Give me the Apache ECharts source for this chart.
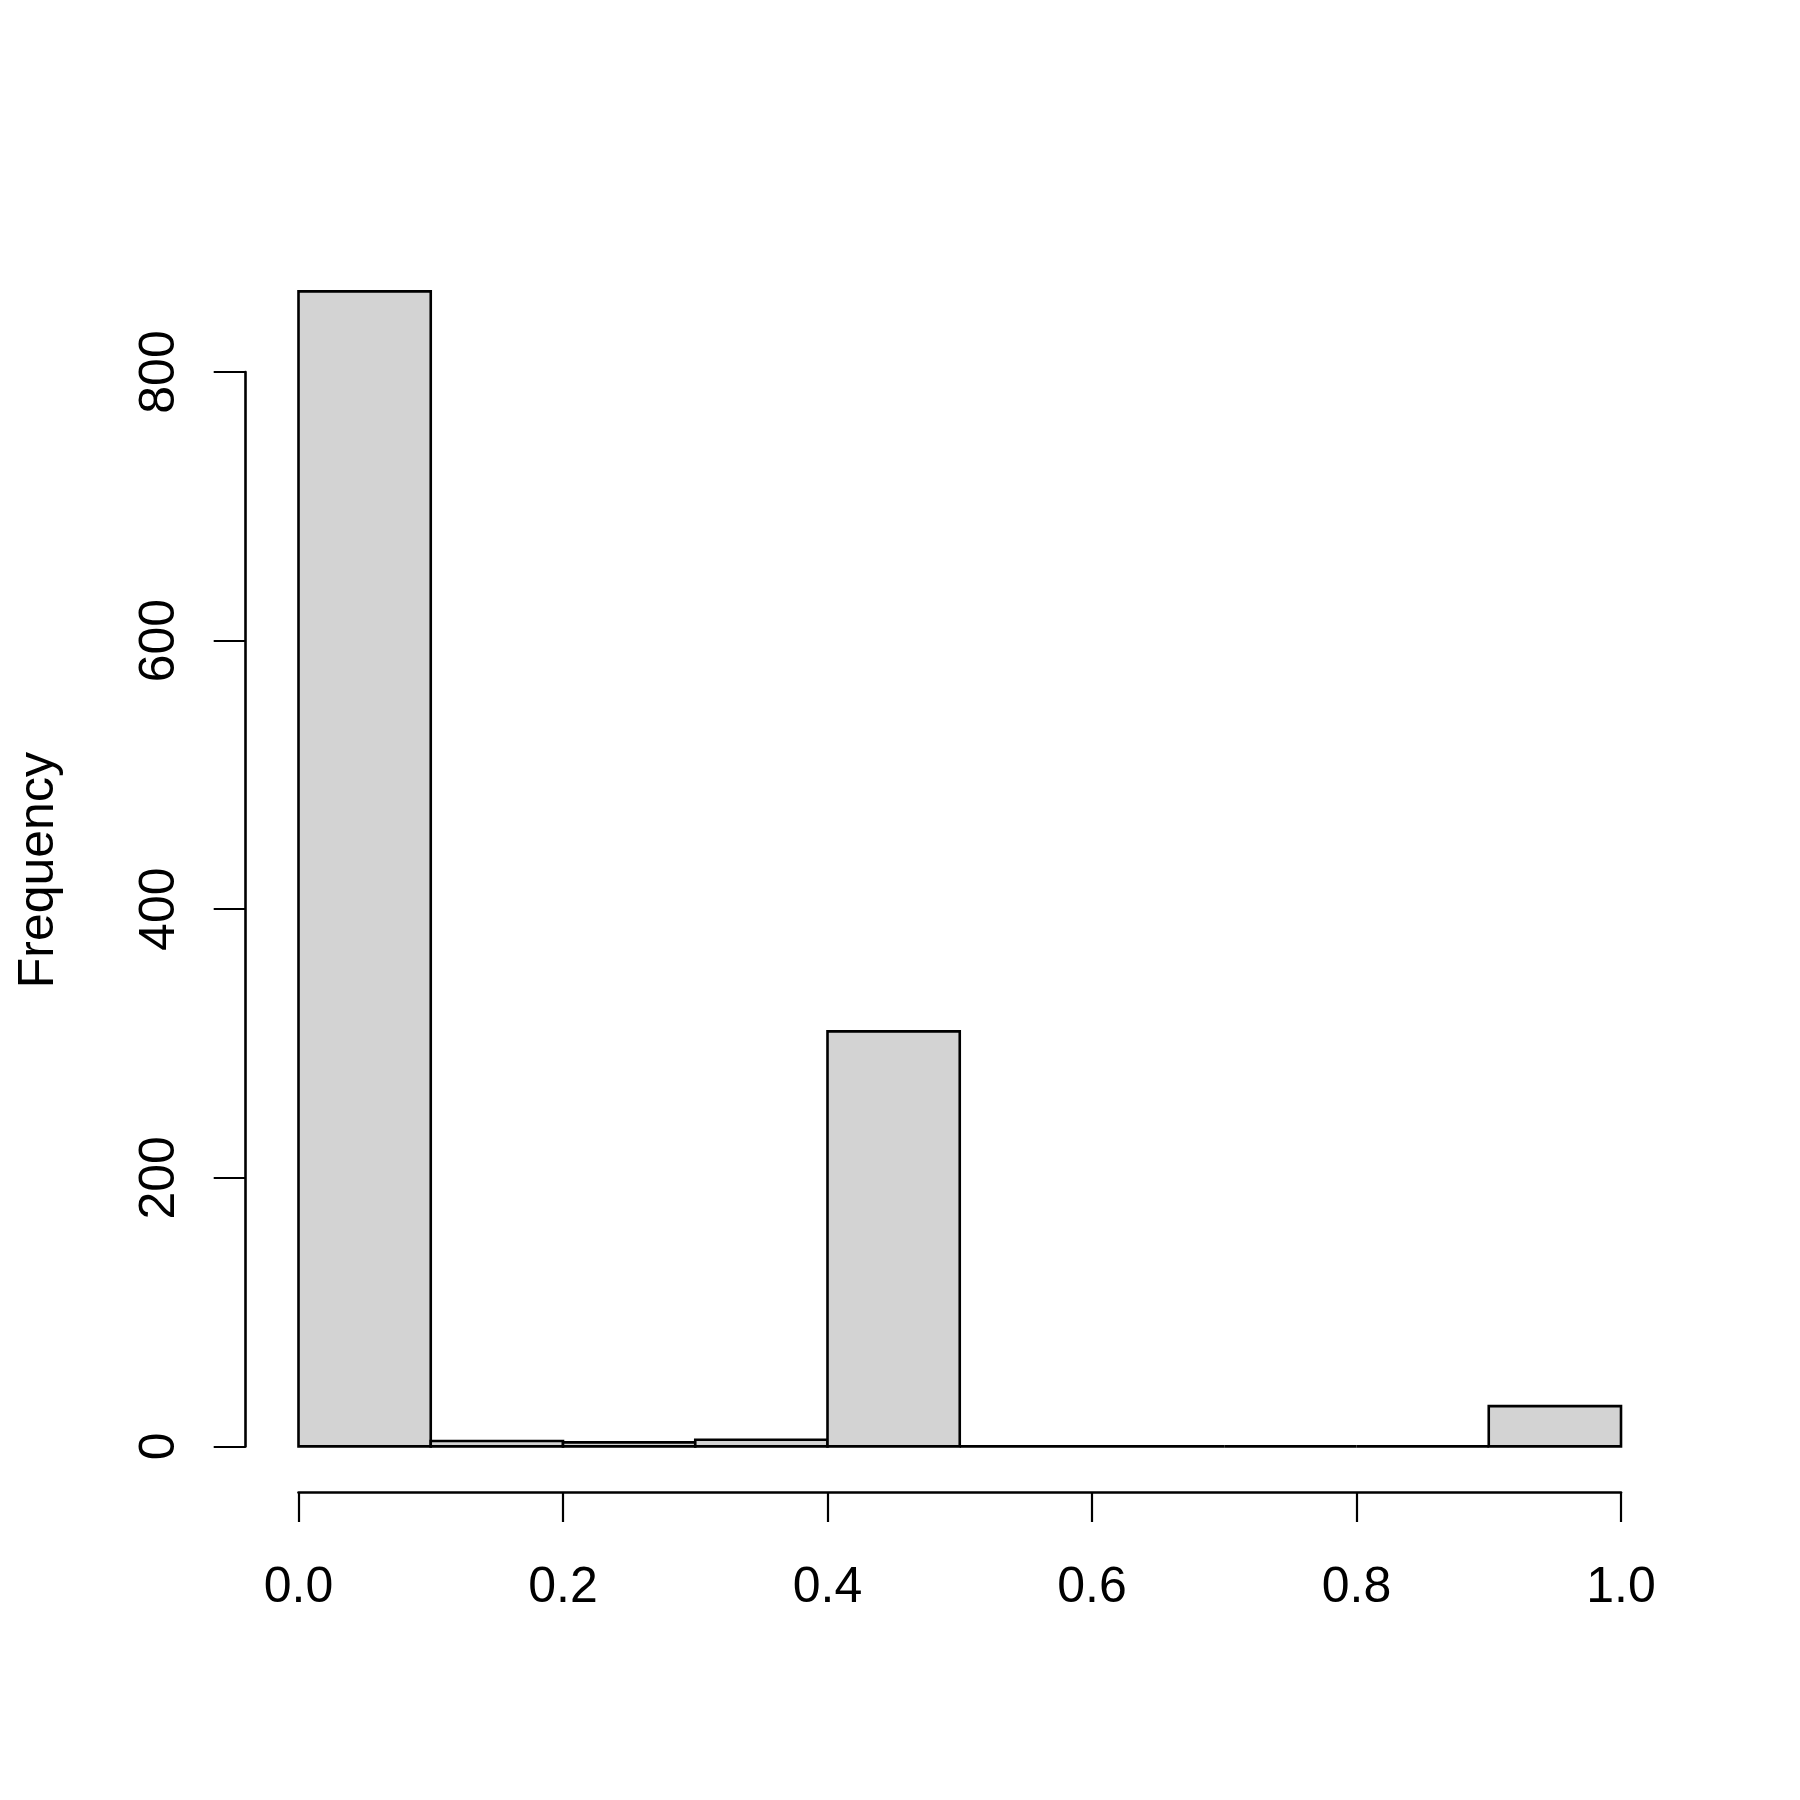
<!DOCTYPE html>
<html>
<head>
<meta charset="utf-8">
<script src="https://cdn.jsdelivr.net/npm/echarts@6/dist/echarts.min.js"></script>
<style>
  html, body { margin: 0; padding: 0; background: #ffffff; }
  #chart { width: 1800px; height: 1800px; }
</style>
</head>
<body>
<div id="chart"></div>
<script>
// histogram bins (breaks) and counts
const binStarts = [0.0, 0.1, 0.2, 0.3, 0.4, 0.5, 0.6, 0.7, 0.8, 0.9];
const binEnds   = [0.1, 0.2, 0.3, 0.4, 0.5, 0.6, 0.7, 0.8, 0.9, 1.0];
const counts    = [860, 4, 3, 5, 309, 0, 0, 0, 0, 30];
const xTicks = [0.0, 0.2, 0.4, 0.6, 0.8, 1.0];
const yTicks = [0, 200, 400, 600, 800];

const font = "Liberation Sans, Arial, sans-serif";
const histData = binStarts.map((s, i) => [s, binEnds[i], counts[i]]);

const chart = echarts.init(document.getElementById("chart"));

// draw each bin as a rect in data coords
const renderBin = (params, api) => {
  const topLeft = api.coord([api.value(0), api.value(2)]);
  const botRight = api.coord([api.value(1), 0]);
  return {
    type: "rect",
    shape: {
      x: topLeft[0],
      y: topLeft[1],
      width: botRight[0] - topLeft[0],
      height: botRight[1] - topLeft[1],
    },
    style: {
      fill: "#D3D3D3",
      stroke: "#000000",
      lineWidth: 2.6,
    },
  };
};

const option = {
  animation: false,
  backgroundColor: "#ffffff",
  grid: {
    left: 298.5,
    right: 179,
    top: 372,
    bottom: 353.6,
    containLabel: false,
    outerBoundsMode: "none",
  },
  xAxis: {
    type: "value",
    min: 0,
    max: 1,
    interval: 0.2,
    offset: 45.6,
    axisLine: {show: true, onZero: false, lineStyle: {color: "#000", width: 2.6}},
    axisTick: {show: true, length: 30, lineStyle: {color: "#000", width: 2.2}},
    splitLine: {show: false},
    axisLabel: {
      margin: 71,
      color: "#000",
      fontFamily: font,
      fontSize: 50,
      formatter: (v) => v.toFixed(1),
      showMinLabel: true,
      showMaxLabel: true,
    },
  },
  yAxis: {
    type: "value",
    min: 0,
    max: 800,
    interval: 200,
    offset: 52.8,
    name: "Frequency",
    nameLocation: "middle",
    nameRotate: 90,
    nameGap: 181,
    nameTextStyle: {color: "#000", fontFamily: font, fontSize: 50, padding: [0, 0, 0, 78]},
    axisLine: {show: true, onZero: false, lineStyle: {color: "#000", width: 2.6}},
    axisTick: {show: true, length: 32, lineStyle: {color: "#000", width: 2.2}},
    splitLine: {show: false},
    axisLabel: {
      rotate: 90,
      margin: 60,
      color: "#000",
      fontFamily: font,
      fontSize: 50,
      showMinLabel: true,
      showMaxLabel: true,
    },
  },
  series: [
    {
      type: "custom",
      clip: false,
      renderItem: renderBin,
      encode: {x: [0, 1], y: 2},
      data: histData,
    },
  ],
};

chart.setOption(option);
</script>
</body>
</html>
